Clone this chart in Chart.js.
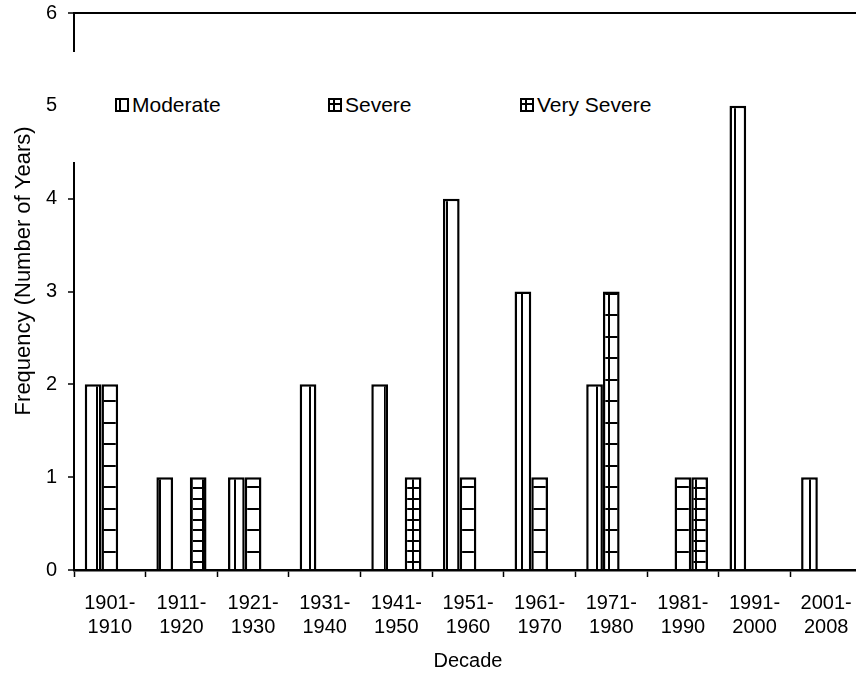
<!DOCTYPE html>
<html>
<head>
<meta charset="utf-8">
<script src="https://cdn.jsdelivr.net/npm/chart.js@4.4.0/dist/chart.umd.min.js"></script>
<style>
  html, body { margin: 0; padding: 0; background: #fff; overflow: hidden; }
  #wrap { position: relative; width: 862px; height: 678px; }
  #legend {
    position: absolute; left: 62px; top: 52px; width: 640px; height: 110px;
    background: #fff; color: #000;
    font: 21px "Liberation Sans", Arial, sans-serif;
  }
  .item { position: absolute; top: 41px; height: 24px; display: flex; align-items: center; white-space: nowrap; }
  .item canvas { margin-right: 3px; }
</style>
</head>
<body>
<div id="wrap">
  <canvas id="droughtChart" width="862" height="678"></canvas>
  <div id="legend"></div>
</div>
<script>
const decades = [
  ['1901-', '1910'], ['1911-', '1920'], ['1921-', '1930'], ['1931-', '1940'],
  ['1941-', '1950'], ['1951-', '1960'], ['1961-', '1970'], ['1971-', '1980'],
  ['1981-', '1990'], ['1991-', '2000'], ['2001-', '2008']
];
const moderate   = [2, 1, 1, 2, 2, 4, 3, 2, 0, 5, 1];
const severe     = [2, 0, 1, 0, 0, 1, 1, 3, 1, 0, 0];
const verySevere = [0, 1, 0, 0, 1, 0, 0, 0, 1, 0, 0];
const yTicks = [0, 1, 2, 3, 4, 5, 6];

const FONT = '"Liberation Sans", Arial, sans-serif';
const ctx = document.getElementById('droughtChart').getContext('2d');

// hatch fills, tiles are anchored to the canvas origin
function makePattern(w, h, draw) {
    const c = document.createElement('canvas');
    c.width = w;
    c.height = h;
    const g = c.getContext('2d');
    g.fillStyle = '#fff';
    g.fillRect(0, 0, w, h);
    g.fillStyle = '#000';
    draw(g, w, h);
    return ctx.createPattern(c, 'repeat');
}

const moderateFill = makePattern(25, 4, (g, w, h) => {
    g.fillRect(9, 0, 2, h);
    g.fillRect(21, 0, 2, h);
});
const severeFill = makePattern(86, 43, (g, w, h) => {
    g.fillRect(0, 13, w, 2);
    g.fillRect(0, 35, w, 2);
    g.fillRect(6, 0, 2, h);
});
const verySevereFill = makePattern(21, 21, (g, w, h) => {
    g.fillRect(0, 4, w, 2);
    g.fillRect(0, 15, w, 2);
    g.fillRect(2, 0, 2, h);
    g.fillRect(13, 0, 2, h);
});

// y title sits a little above the middle of the plot, as in the original
const yTitle = {
    id: 'yTitle',
    afterDraw(chart) {
        const area = chart.chartArea;
        const c = chart.ctx;
        c.save();
        c.translate(24, area.top + (area.bottom - area.top) * 0.463);
        c.rotate(-Math.PI / 2);
        c.fillStyle = '#000';
        c.font = '22px ' + FONT;
        c.textAlign = 'center';
        c.textBaseline = 'middle';
        c.fillText('Frequency (Number of Years)', 0, 0);
        c.restore();
    }
};

const chart = new Chart(ctx, {
    type: 'bar',
    data: {
        labels: decades,
        datasets: [
            { label: 'Moderate', data: moderate, backgroundColor: moderateFill },
            { label: 'Severe', data: severe, backgroundColor: severeFill },
            { label: 'Very Severe', data: verySevere, backgroundColor: verySevereFill }
        ]
    },
    options: {
        responsive: false,
        animation: false,
        devicePixelRatio: 1,
        layout: { padding: { top: 13, right: 0, bottom: 0, left: 0 } },
        datasets: {
            bar: {
                categoryPercentage: 0.7,
                barPercentage: 1,
                borderColor: '#000',
                borderWidth: c => (c.raw ? 2.5 : 0),
                borderSkipped: 'start',
                inflateAmount: 0
            }
        },
        plugins: {
            legend: { display: false },
            tooltip: { enabled: false }
        },
        scales: {
            x: {
                grid: {
                    drawOnChartArea: false,
                    drawTicks: true,
                    tickLength: 7,
                    tickColor: '#000',
                    tickWidth: 1.5
                },
                border: { color: '#000', width: 2.5 },
                ticks: {
                    color: '#000',
                    font: { family: FONT, size: 20, lineHeight: 1.2 },
                    padding: 14,
                    maxRotation: 0,
                    autoSkip: false
                },
                title: {
                    display: true,
                    text: 'Decade',
                    color: '#000',
                    font: { family: FONT, size: 20, lineHeight: 1.2 },
                    padding: { top: 0, bottom: 5 }
                },
                afterFit: s => {
                    s.height = 108;
                    s.paddingLeft = 0;
                    s.paddingRight = 0;
                }
            },
            y: {
                min: 0,
                max: 6,
                afterBuildTicks: s => { s.ticks = yTicks.map(v => ({ value: v })); },
                ticks: {
                    color: '#000',
                    font: { family: FONT, size: 20 },
                    padding: 11
                },
                grid: {
                    color: c => (c.tick && c.tick.value === yTicks[yTicks.length - 1] ? '#000' : 'rgba(0,0,0,0)'),
                    lineWidth: 2,
                    tickColor: '#000',
                    tickLength: 6,
                    tickWidth: 1.5
                },
                border: { color: '#000', width: 2 },
                afterFit: s => {
                    s.width = 74;
                    s.paddingTop = 0;
                    s.paddingBottom = 0;
                }
            }
        }
    },
    plugins: [yTitle]
});

// legend: white box over the plot, like the original
function legendIcon(kind) {
    const c = document.createElement('canvas');
    c.width = 14;
    c.height = 14;
    const g = c.getContext('2d');
    g.fillStyle = '#000';
    g.fillRect(0, 0, 14, 14);
    g.fillStyle = '#fff';
    if (kind === 0) {
        g.fillRect(2, 2, 2, 10);
        g.fillRect(6, 2, 6, 10);
    } else {
        g.fillRect(2, 2, 3, 3);
        g.fillRect(7, 2, 5, 3);
        g.fillRect(2, 7, 3, 5);
        g.fillRect(7, 7, 5, 5);
    }
    return c;
}

const legendLeft = [53, 266, 458];
const legendEl = document.getElementById('legend');
chart.data.datasets.forEach((ds, i) => {
    const item = document.createElement('div');
    item.className = 'item';
    item.style.left = legendLeft[i] + 'px';
    item.appendChild(legendIcon(i));
    const span = document.createElement('span');
    span.textContent = ds.label;
    item.appendChild(span);
    legendEl.appendChild(item);
});
</script>
</body>
</html>
